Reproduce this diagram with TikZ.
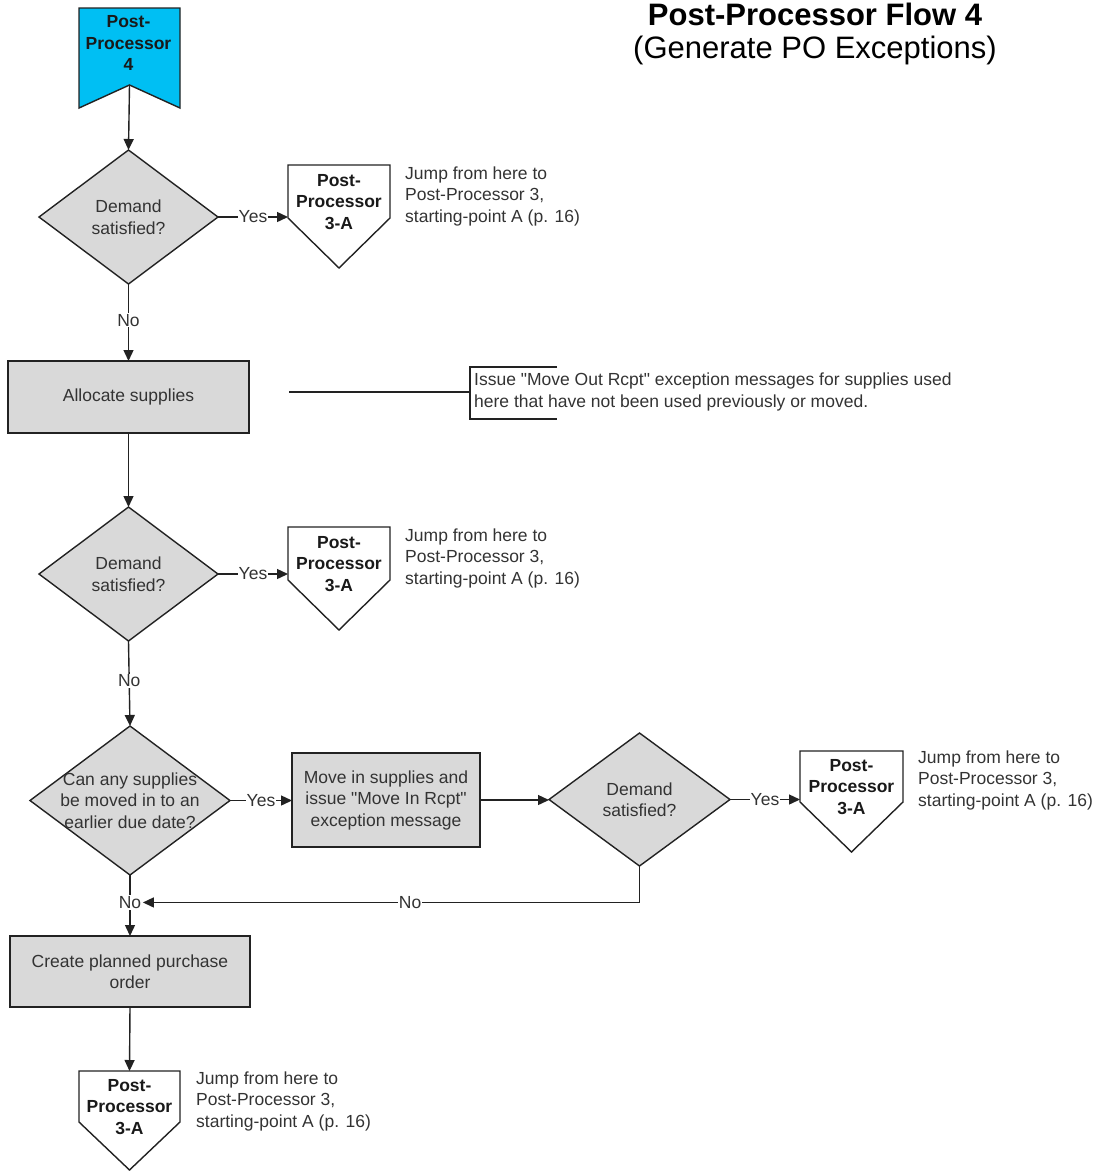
\documentclass[tikz,border=0pt]{standalone}
\usepackage{fontspec}
\setmainfont{Liberation Sans}[Ligatures=TeXOff]
\usetikzlibrary{arrows.meta,calc}
\definecolor{cyanfill}{HTML}{00BFF3}
\definecolor{grayfill}{HTML}{D9D9D9}
\definecolor{linec}{HTML}{222222}
\definecolor{txtc}{HTML}{333333}
\begin{document}
\begin{tikzpicture}[x=1pt,y=-1pt,
  area/.style 2 args={rectangle,inner sep=0pt,outer sep=0pt,minimum width=#1,minimum height=#2},
  shapeline/.style={draw=linec,line width=1.4pt,line join=miter},
  body/.style={font=\fontsize{17.5}{21.5}\selectfont,text=txtc,align=center,inner sep=0pt},
  bodyb/.style={font=\fontsize{17.5}{21.5}\selectfont\bfseries,text=black!90,align=center,inner sep=0pt},
  jump/.style={font=\fontsize{17.5}{21.5}\selectfont,text=txtc,align=left,anchor=west,inner sep=0pt},
  flow/.style={draw=linec,line width=1.4pt,-{Triangle[length=11pt,width=10pt]}},
  plain/.style={draw=linec,line width=1.4pt},
  lab/.style={font=\fontsize{17.5}{21.5}\selectfont,text=txtc,fill=white,inner sep=1pt}
]
\useasboundingbox (0,0) rectangle (1102,1171);

% title
\node[font=\fontsize{31}{36}\selectfont\bfseries,inner sep=0pt] (title) at (815,14) {Post-Processor Flow 4};
\node[font=\fontsize{31}{36}\selectfont,inner sep=0pt] (subtitle) at (815,50) {(Generate PO Exceptions)};

% start banner
\node[area={101pt}{100pt}] (start) at (129.5,58) {};
\coordinate (startnotch) at ($(start.south)+(0,-23)$);
\path[shapeline,fill=cyanfill] (start.north west) -- (start.north east) -- (start.south east) -- (startnotch) -- (start.south west) -- cycle;
\node[bodyb] (startt) at (128.5,43) {Post-\\Processor\\4};

% diamond 1
\node[area={179pt}{134pt}] (d1) at (128.5,217) {};
\path[shapeline,fill=grayfill] (d1.north) -- (d1.east) -- (d1.south) -- (d1.west) -- cycle;
\node[body] (d1t) at (d1.center) {Demand\\satisfied?};

% connector 1
\node[area={102pt}{103pt}] (c1) at (339,216.5) {};
\path[shapeline,fill=white] (c1.north west) -- (c1.north east) -- ($(c1.north east)+(0,53)$) -- (c1.south) -- ($(c1.north west)+(0,53)$) -- cycle;
\node[bodyb] (c1t) at ($(c1.north)+(0,37)$) {Post-\\Processor\\3-A};
\node[jump] (j1) at (405,196) {Jump from here to\\Post-Processor 3,\\starting-point A (p. 16)};

% allocate
\node[area={241pt}{72pt}] (alloc) at (128.5,397) {};
\path[shapeline,fill=grayfill] (alloc.north west) rectangle (alloc.south east);
\node[body] (alloct) at (alloc.center) {Allocate supplies};

% annotation
\coordinate (annL) at (289,392);
\node[jump] (note) at (474,392) {Issue "Move Out Rcpt" exception messages for supplies used\\here that have not been used previously or moved.};
\coordinate (brk) at (470,392);
\draw[plain] (557,367) -- (470,367) -- (470,419) -- (557,419);
\draw[plain] (annL) -- (brk);

% diamond 2
\node[area={179pt}{134pt}] (d2) at (128.5,574) {};
\path[shapeline,fill=grayfill] (d2.north) -- (d2.east) -- (d2.south) -- (d2.west) -- cycle;
\node[body] (d2t) at (d2.center) {Demand\\satisfied?};

% connector 2
\node[area={102pt}{103pt}] (c2) at (339,578.5) {};
\path[shapeline,fill=white] (c2.north west) -- (c2.north east) -- ($(c2.north east)+(0,53)$) -- (c2.south) -- ($(c2.north west)+(0,53)$) -- cycle;
\node[bodyb] (c2t) at ($(c2.north)+(0,37)$) {Post-\\Processor\\3-A};
\node[jump] (j2) at (405,558) {Jump from here to\\Post-Processor 3,\\starting-point A (p. 16)};

% diamond 3
\node[area={200pt}{149pt}] (d3) at (130,800.5) {};
\path[shapeline,fill=grayfill] (d3.north) -- (d3.east) -- (d3.south) -- (d3.west) -- cycle;
\node[body] (d3t) at (d3.center) {Can any supplies\\be moved in to an\\earlier due date?};

% move box
\node[area={188pt}{94pt}] (move) at (386,800) {};
\path[shapeline,fill=grayfill] (move.north west) rectangle (move.south east);
\node[body] (movet) at (move.center) {Move in supplies and\\issue "Move In Rcpt"\\exception message};

% diamond 4
\node[area={181pt}{133pt}] (d4) at (639.5,799.5) {};
\path[shapeline,fill=grayfill] (d4.north) -- (d4.east) -- (d4.south) -- (d4.west) -- cycle;
\node[body] (d4t) at (d4.center) {Demand\\satisfied?};

% connector 3
\node[area={103pt}{101pt}] (c3) at (851.5,801.5) {};
\path[shapeline,fill=white] (c3.north west) -- (c3.north east) -- ($(c3.north east)+(0,51)$) -- (c3.south) -- ($(c3.north west)+(0,51)$) -- cycle;
\node[bodyb] (c3t) at ($(c3.north)+(0,36)$) {Post-\\Processor\\3-A};
\node[jump] (j3) at (918,780) {Jump from here to\\Post-Processor 3,\\starting-point A (p. 16)};

% create box
\node[area={240pt}{71pt}] (create) at (130,971.5) {};
\path[shapeline,fill=grayfill] (create.north west) rectangle (create.south east);
\node[body] (createt) at (create.center) {Create planned purchase\\order};

% connector 4
\node[area={101pt}{99pt}] (c4) at (129.5,1120.5) {};
\path[shapeline,fill=white] (c4.north west) -- (c4.north east) -- ($(c4.north east)+(0,51)$) -- (c4.south) -- ($(c4.north west)+(0,51)$) -- cycle;
\node[bodyb] (c4t) at ($(c4.north)+(0,36)$) {Post-\\Processor\\3-A};
\node[jump] (j4) at (196,1101) {Jump from here to\\Post-Processor 3,\\starting-point A (p. 16)};

% flows
\draw[flow] (startnotch) -- (d1.north);
\draw[flow] (d1.east) -- (d1.east -| c1.west) node[lab,midway] (y1) {Yes};
\draw[flow] (d1.south) -- (alloc.north) node[lab,pos=0.47] (n1) {No};
\draw[flow] (alloc.south) -- (d2.north);
\draw[flow] (d2.east) -- (d2.east -| c2.west) node[lab,midway] (y2) {Yes};
\draw[flow] (d2.south) -- (d3.north) node[lab,pos=0.47] (n2) {No};
\draw[flow] (d3.east) -- (d3.east -| move.west) node[lab,midway] (y3) {Yes};
\draw[flow] (move.east) -- (move.east -| d4.west);
\draw[flow] (d4.east) -- (d4.east -| c3.west) node[lab,midway] (y4) {Yes};
\draw[flow] (d3.south) -- (create.north) node[lab,pos=0.45] (n3) {No};
\draw[flow] (d4.south) |- (n3.east) node[lab,pos=0.731] (n4) {No};
\draw[flow] (create.south) -- (c4.north);
\end{tikzpicture}
\end{document}
